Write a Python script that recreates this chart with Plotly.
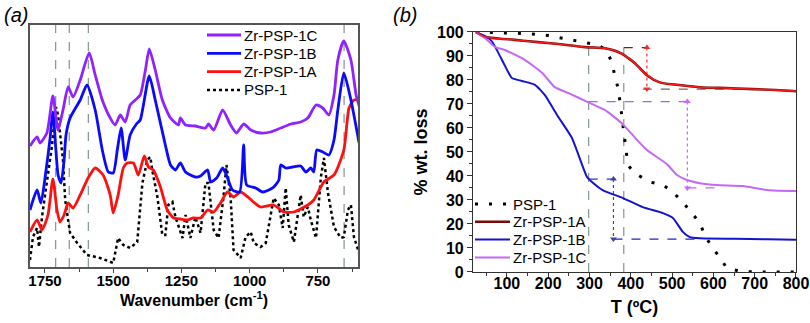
import plotly.graph_objects as go

# ---------------- Panel (a): FTIR spectra (offset, arbitrary units) ----------------
wn_1C = [1805, 1779, 1768, 1743, 1721, 1702, 1684, 1665, 1647, 1621, 1588, 1566, 1540, 1511, 1493,
         1474, 1456, 1438, 1419, 1401, 1382, 1368, 1346, 1320, 1290, 1261, 1254, 1235, 1199, 1162,
         1151, 1132, 1099, 1070, 1048, 1022, 996, 960, 923, 886, 849, 813, 787, 757, 732, 710, 691,
         677, 655, 629, 610, 599]
ab_1C = [120, 129, 123, 133, 170, 136, 156, 179, 169, 186, 213, 191, 166, 148, 141,
         151, 144, 161, 166, 171, 196, 217, 196, 166, 148, 141, 148, 141, 140, 138,
         142, 136, 156, 141, 133, 142, 136, 133, 134, 138, 142, 144, 148, 161, 158, 151, 171,
         206, 225, 206, 171, 160]

wn_1B = [1805, 1779, 1765, 1746, 1732, 1721, 1710, 1702, 1691, 1680, 1673, 1658, 1621, 1596, 1566,
         1540, 1518, 1500, 1485, 1471, 1456, 1438, 1415, 1401, 1368, 1346, 1309, 1290, 1272, 1254,
         1235, 1199, 1180, 1154, 1143, 1121, 1099, 1085, 1063, 1037, 1022, 1011, 978, 952, 916,
         893, 886, 868, 842, 813, 794, 776, 765, 754, 732, 710, 691, 677, 655, 629, 599]
ab_1B = [56, 76, 63, 96, 126, 154, 116, 91, 83, 106, 131, 148, 166, 181, 156,
         116, 94, 93, 116, 138, 106, 131, 142, 146, 190, 166, 121, 101, 96, 103,
         94, 89, 90, 96, 84, 88, 98, 91, 76, 74, 121, 81, 78, 74, 78,
         86, 101, 98, 99, 100, 94, 98, 94, 116, 114, 111, 126, 156, 193, 166, 123]

wn_1A = [1805, 1779, 1761, 1739, 1721, 1706, 1695, 1680, 1665, 1647, 1621, 1592, 1566, 1537, 1511,
         1500, 1482, 1463, 1449, 1426, 1408, 1386, 1371, 1353, 1327, 1302, 1279, 1254, 1228, 1206,
         1180, 1154, 1132, 1107, 1081, 1059, 1033, 1007, 960, 912, 875, 838, 787, 765, 728, 691,
         655, 636, 618, 599]
ab_1A = [34, 46, 36, 51, 87, 56, 44, 51, 63, 58, 71, 88, 98, 91, 71,
         53, 71, 98, 103, 103, 91, 110, 99, 96, 79, 56, 48, 47, 46, 48,
         48, 56, 54, 63, 74, 69, 74, 69, 59, 61, 54, 54, 61, 66, 84, 91,
         116, 158, 166, 166]

wn_P = [1805, 1794, 1779, 1772, 1761, 1743, 1732, 1724, 1717, 1710, 1702, 1695, 1684, 1676, 1658,
        1632, 1596, 1548, 1500, 1482, 1463, 1438, 1412, 1393, 1375, 1364, 1357, 1338, 1320, 1309,
        1298, 1283, 1272, 1246, 1235, 1217, 1199, 1180, 1162, 1151, 1132, 1114, 1096, 1085, 1070,
        1059, 1033, 1015, 996, 985, 960, 941, 930, 912, 893, 879, 868, 857, 838, 813, 802, 787,
        776, 757, 739, 728, 713, 691, 666, 655, 640, 629, 618, 599]
ab_P = [6, 29, 38, 19, 49, 83, 109, 121, 141, 159, 151, 131, 106, 66, 33,
        23, 11, 8, 3, 28, 21, 18, 24, 83, 106, 109, 96, 69, 31, 31,
        61, 64, 49, 28, 51, 28, 49, 33, 83, 83, 36, 28, 69, 101, 69,
        16, 8, 29, 34, 23, 19, 23, 41, 68, 61, 38, 78, 41, 24, 71, 49, 59,
        46, 28, 89, 108, 73, 39, 28, 29, 56, 61, 29, 13]

marker_wn = [1711, 1661, 1591, 654]
wn_ticks = [1750, 1500, 1250, 1000, 750]

# ---------------- Panel (b): TGA ----------------
T_P = [25, 50, 100, 150, 200, 250, 280, 320, 340, 354, 361, 369, 374, 378, 386, 390, 393, 405,
       417, 446, 478, 502, 526, 548, 567, 579, 596, 615, 632, 664, 700, 800]
w_P = [100, 99.9, 99.7, 99.3, 98.5, 97, 95.8, 94.6, 92.5, 87.5, 82, 76.7, 70.8, 65.4, 55, 49.6, 44.6, 42,
       40.4, 37.5, 36.2, 33.3, 29, 24.6, 20.4, 15.4, 10.4, 6.25, 1.7, 0.3, 0, 0]

T_A = [25, 47, 80, 119, 160, 199, 250, 289, 337, 360, 378, 395, 410, 439, 470, 511, 567, 616, 696, 750, 800]
w_A = [100, 98, 97.3, 96.7, 96, 95.4, 94.5, 93.7, 93.2, 92.3, 91, 89, 87, 82, 79, 78, 77, 76.7, 76.2, 75.8, 75.3]

T_B = [25, 50, 64, 78, 95, 112, 136, 168, 192, 223, 257, 269, 294, 306, 333, 381, 429, 478, 502, 526,
       543, 567, 650, 730, 800]
w_B = [100, 98, 96, 91.7, 86, 80.8, 79.6, 78, 73.7, 65, 56, 50.8, 39.6, 37.5, 34, 30.8, 27, 24.5, 22.5, 16.7,
       14.5, 14, 13.8, 13.6, 13.4]

T_C = [25, 50, 71, 95, 144, 185, 216, 248, 296, 337, 378, 410, 439, 487, 512, 536, 567, 608, 671, 737, 800]
w_C = [100, 97, 93.7, 92.5, 88.3, 83, 77, 74.6, 70.8, 67.5, 62, 56, 50.8, 45, 40.4, 38.3, 37, 36.2, 35.8, 34, 33.7]

# guide levels
guide_T = [298, 383]
guide_top = [94, 93.5]
A_T, A_hi, A_lo = 439, 93.5, 76.2
C_T, C_hi, C_lo = 537, 71, 35
B_T, B_hi, B_lo = 358, 38.7, 13.7

series_names = ["PSP-1", "Zr-PSP-1A", "Zr-PSP-1B", "Zr-PSP-1C"]

FONT = "Liberation Sans, Arial, sans-serif"
PURPLE_A = "#8f22ff"
BLUE_A = "#0a0aff"
RED_A = "#ff1010"
BLUE_B = "#1414d0"
PURPLE_B = "#c468f5"
DRED = "#7a0a0a"
RED_B = "#ff1a1a"
GUIDE = "#7f9a8c"

W, H = 810, 323

fig = go.Figure()

# panel (a) traces
style_a = {
    "PSP-1": dict(color="black", width=2.5, dash="dot"),
    "Zr-PSP-1A": dict(color=RED_A, width=2.8),
    "Zr-PSP-1B": dict(color=BLUE_A, width=2.8),
    "Zr-PSP-1C": dict(color=PURPLE_A, width=2.8),
}
data_a = {"PSP-1": (wn_P, ab_P), "Zr-PSP-1A": (wn_1A, ab_1A), "Zr-PSP-1B": (wn_1B, ab_1B), "Zr-PSP-1C": (wn_1C, ab_1C)}
for nm in series_names:
    x, y = data_a[nm]
    ln = dict(style_a[nm])
    if nm != "PSP-1":
        ln.update(shape="spline", smoothing=0.6)
    fig.add_trace(go.Scatter(x=x, y=y, name=nm, mode="lines", line=ln, showlegend=False,
                             xaxis="x", yaxis="y"))

# panel (b) guides
def seg(x, y, color, dash, width=1.2, sym=None):
    fig.add_trace(go.Scatter(x=x, y=y, mode="lines" + ("+markers" if sym else ""),
                             line=dict(color=color, width=width, dash=dash),
                             marker=dict(symbol=sym, size=6, color=color) if sym else None,
                             showlegend=False, hoverinfo="skip", xaxis="x2", yaxis="y2"))

for t, top in zip(guide_T, guide_top):
    seg([t, t], [0, top], GUIDE, "dash")
seg([guide_T[1], A_T], [A_hi, A_hi], "#8a1a1a", "dash")
seg([A_T - 10, 720], [A_lo, A_lo], "#8a5a5a", "dash", 1.4)
seg([A_T, A_T], [A_hi, A_lo], "#e83030", "dot", 1.2, ["triangle-up", "triangle-down"])
seg([guide_T[0], C_T + 12], [C_hi, C_hi], "#a060ff", "dash")
seg([C_T, 620], [C_lo, C_lo], "#c468f5", "dash")
seg([C_T, C_T], [C_hi, C_lo], "#cc66ff", "dot", 1.2, ["triangle-up", "triangle-down"])
seg([guide_T[0], guide_T[1]], [B_hi, B_hi], "#3030e0", "dash", 1.4)
seg([B_T, 560], [B_lo, B_lo], "#2020d0", "dash", 1.4)
seg([B_T, B_T], [B_hi, B_lo], "#4040a0", "dot", 1.2, ["triangle-up", "triangle-down"])

# panel (b) traces
style_b = {
    "PSP-1": dict(color="black", width=3, dash="3px,11px"),
    "Zr-PSP-1A": dict(color=DRED, width=2.6, shape="spline"),
    "Zr-PSP-1B": dict(color=BLUE_B, width=2, shape="spline", smoothing=0.5),
    "Zr-PSP-1C": dict(color=PURPLE_B, width=2, shape="spline", smoothing=0.5),
}
data_b = {"PSP-1": (T_P, w_P), "Zr-PSP-1A": (T_A, w_A), "Zr-PSP-1B": (T_B, w_B), "Zr-PSP-1C": (T_C, w_C)}
for nm in series_names:
    x, y = data_b[nm]
    fig.add_trace(go.Scatter(x=x, y=y, name=nm, mode="lines", line=style_b[nm], showlegend=False,
                             xaxis="x2", yaxis="y2"))
fig.add_trace(go.Scatter(x=T_A, y=w_A, mode="lines", line=dict(color=RED_B, width=1.4, shape="spline"),
                         showlegend=False, hoverinfo="skip", xaxis="x2", yaxis="y2"))

for w in marker_wn:
    fig.add_shape(type="line", xref="x", yref="y domain", x0=w, x1=w, y0=0, y1=1,
                  line=dict(color="#8a9c98", width=1.3, dash="dash"), layer="below")

# ---- hand-drawn legends (pixel placement inside each panel) ----
annotations = []
def legend_row(name, line_style, x0px, x1px, ypx, textx):
    yy = 1 - ypx / H
    fig.add_shape(type="line", xref="paper", yref="paper", x0=x0px / W, x1=x1px / W, y0=yy, y1=yy,
                  line=dict(color=line_style["color"], width=min(line_style["width"], 2.8),
                            dash=line_style.get("dash", "solid")))
    annotations.append(dict(text=name, x=textx / W, y=yy, xref="paper", yref="paper", xanchor="left",
                            yanchor="middle", showarrow=False,
                            font=dict(family=FONT, size=15, color="black")))

legend_a_order = ["Zr-PSP-1C", "Zr-PSP-1B", "Zr-PSP-1A", "PSP-1"]
for i, nm in enumerate(legend_a_order):
    legend_row(nm, style_a[nm], 207, 241, 35 + i * 18.3, 242)
for i, nm in enumerate(series_names):
    legend_row(nm, style_b[nm], 475, 510, 204 + i * 17.8, 511)

bold = dict(family=FONT, size=15, color="black", weight="bold")

annotations += [
    dict(text="(a)", x=0.002, y=0.995, xref="paper", yref="paper", xanchor="left", yanchor="top",
         showarrow=False, font=dict(family=FONT, size=20, color="black", style="italic")),
    dict(text="(b)", x=0.483, y=0.995, xref="paper", yref="paper", xanchor="left", yanchor="top",
         showarrow=False, font=dict(family=FONT, size=20, color="black", style="italic")),
]

fig.update_layout(
    width=W, height=H, margin=dict(l=0, r=0, t=0, b=0, autoexpand=False),
    paper_bgcolor="white", plot_bgcolor="white",
    showlegend=False,
    xaxis=dict(domain=[0.037, 0.442], range=[1805, 603], tickvals=wn_ticks, ticks="outside", ticklen=4,
               tickcolor="#444", showgrid=False, zeroline=False, showline=True, mirror=True,
               linecolor="#555", linewidth=1.5, tickfont=bold, automargin=False, ticklabelstandoff=-5,
               minor=dict(ticks="outside", dtick=125, ticklen=3, tickcolor="#444", showgrid=False),
               title=dict(text="Wavenumber (cm<sup>-1</sup>)", font=dict(family=FONT, size=16, color="black", weight="bold"),
                          standoff=7)),
    yaxis=dict(domain=[0.1734, 0.9226], range=[-1, 241], showticklabels=False, ticks="", showgrid=False,
               zeroline=False, showline=True, mirror=True, linecolor="#555", linewidth=1.5, automargin=False),
    xaxis2=dict(domain=[0.584, 0.9827], range=[18, 800], dtick=100, tick0=0, ticks="outside", ticklen=5,
                tickcolor="#333", showgrid=False, zeroline=False, showline=True, mirror=True,
                linecolor="#333", linewidth=1.2, anchor="y2", automargin=False, ticklabelstandoff=-8,
                tickfont=dict(family=FONT, size=16, color="black", weight="bold"),
                minor=dict(ticks="outside", dtick=50, ticklen=3, tickcolor="#333", showgrid=False),
                title=dict(text="T (ºC)", font=dict(family=FONT, size=18, color="black", weight="bold"), standoff=9)),
    yaxis2=dict(domain=[0.158, 0.901], range=[0, 100], dtick=10, ticks="outside", ticklen=5,
                tickcolor="#333", showgrid=False, zeroline=False, showline=True, mirror=True,
                linecolor="#333", linewidth=1.2, anchor="x2", automargin=False,
                tickfont=dict(family=FONT, size=16, color="black", weight="bold"),
                minor=dict(ticks="outside", dtick=5, ticklen=3, tickcolor="#333", showgrid=False),
                title=dict(text="% wt. loss", font=dict(family=FONT, size=18, color="black", weight="bold"), standoff=4)),
    annotations=annotations,
)

fig.write_html("out.html")
